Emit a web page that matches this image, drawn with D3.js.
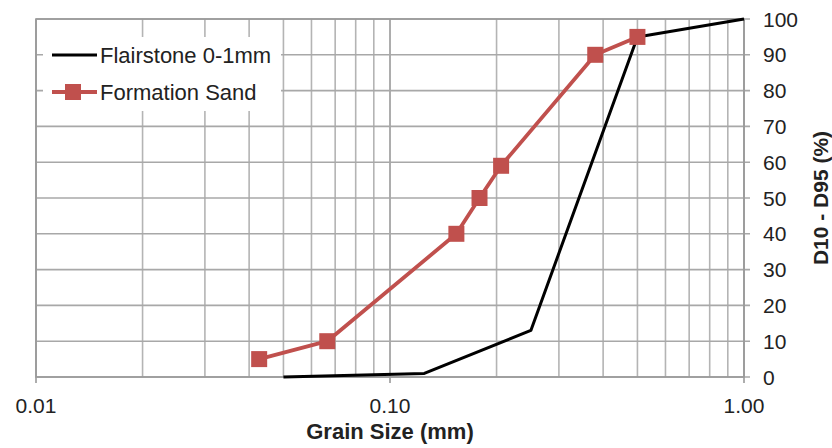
<!DOCTYPE html>
<html><head><meta charset="utf-8">
<script src="https://cdn.jsdelivr.net/npm/d3@7/dist/d3.min.js"></script>
<style>body{margin:0;background:#fff}svg{display:block;font-family:"Liberation Sans",Arial,sans-serif}</style>
</head><body><svg id="c" width="832" height="448"></svg>
<script>
const flairSize = [0.05, 0.125, 0.25, 0.5, 1.0];
const flairPct  = [0, 1, 13, 95, 100];
const sandSize  = [0.0427, 0.0665, 0.154, 0.179, 0.206, 0.38, 0.5];
const sandPct   = [5, 10, 40, 50, 59, 90, 95];
const xTicks = [0.01, 0.1, 1];
const xTickLabels = ["0.01", "0.10", "1.00"];
const yTicks = [0,10,20,30,40,50,60,70,80,90,100];
const seriesNames = ["Flairstone 0-1mm", "Formation Sand"];

const svg = d3.select("#c");
const L = 36, R = 744, T = 19, B = 377;
const x = d3.scaleLog().domain([0.01, 1]).range([L, R]);
const y = d3.scaleLinear().domain([0, 100]).range([B, T]);
const FS = 21;

// minor grid
const minor = [];
[0.01, 0.1].forEach(d => { for (let k = 2; k <= 9; k++) minor.push(d * k); });
const g = svg.append("g");
g.selectAll(".vx").data(minor).enter().append("line")
  .attr("x1", d => x(d)).attr("x2", d => x(d)).attr("y1", T).attr("y2", B)
  .attr("stroke", "#b4b4b4").attr("stroke-width", 1.6);
g.selectAll(".vm").data(xTicks).enter().append("line")
  .attr("x1", d => x(d)).attr("x2", d => x(d)).attr("y1", T).attr("y2", B + 6)
  .attr("stroke", "#999").attr("stroke-width", 1.6);
g.selectAll(".hy").data(yTicks).enter().append("line")
  .attr("x1", L).attr("x2", R + 6).attr("y1", d => y(d)).attr("y2", d => y(d))
  .attr("stroke", "#a8a8a8").attr("stroke-width", 1.6);
// frame
g.append("rect").attr("x", L).attr("y", T).attr("width", R - L).attr("height", B - T)
  .attr("fill", "none").attr("stroke", "#999").attr("stroke-width", 1.6);

// axes labels
svg.append("g").selectAll("text").data(yTicks).enter().append("text")
  .attr("x", 763).attr("y", d => y(d)).attr("dy", "0.36em")
  .attr("font-size", FS).attr("fill", "#222").text(d => d);
svg.append("g").selectAll("text").data(xTicks).enter().append("text")
  .attr("x", d => x(d)).attr("y", 405).attr("dy", "0.36em").attr("text-anchor", "middle")
  .attr("font-size", FS).attr("fill", "#222").text((d, i) => xTickLabels[i]);
svg.append("text").attr("x", 390).attr("y", 431).attr("dy", "0.36em").attr("text-anchor", "middle")
  .attr("font-size", 22).attr("font-weight", "bold").attr("fill", "#222").text("Grain Size (mm)");
svg.append("text").attr("transform", "translate(820,198) rotate(-90)").attr("dy", "0.36em")
  .attr("text-anchor", "middle").attr("font-size", FS).attr("font-weight", "bold").attr("fill", "#222")
  .text("D10 - D95 (%)");

// series
const line = d3.line().x(d => x(d[0])).y(d => y(d[1]));
const flair = flairSize.map((s, i) => [s, flairPct[i]]);
const sand = sandSize.map((s, i) => [s, sandPct[i]]);
svg.append("path").datum(sand).attr("d", line).attr("fill", "none")
  .attr("stroke", "#c0504d").attr("stroke-width", 3.8).attr("stroke-linejoin", "round");
svg.append("path").datum(flair).attr("d", line).attr("fill", "none")
  .attr("stroke", "#000").attr("stroke-width", 3).attr("stroke-linejoin", "round");
svg.selectAll(".sq").data(sand).enter().append("rect")
  .attr("x", d => x(d[0]) - 8).attr("y", d => y(d[1]) - 8).attr("width", 16).attr("height", 16)
  .attr("fill", "#c0504d");

// legend
const lg = svg.append("g");
lg.append("rect").attr("x", 43).attr("y", 37).attr("width", 238).attr("height", 74).attr("fill", "#fff");
lg.append("line").attr("x1", 52).attr("x2", 97).attr("y1", 55).attr("y2", 55)
  .attr("stroke", "#000").attr("stroke-width", 3);
lg.append("text").attr("x", 100).attr("y", 55).attr("dy", "0.36em").attr("font-size", 22)
  .attr("fill", "#222").text(seriesNames[0]);
lg.append("line").attr("x1", 52).attr("x2", 97).attr("y1", 92).attr("y2", 92)
  .attr("stroke", "#c0504d").attr("stroke-width", 3.8);
lg.append("rect").attr("x", 65).attr("y", 84).attr("width", 16).attr("height", 16).attr("fill", "#c0504d");
lg.append("text").attr("x", 100).attr("y", 92).attr("dy", "0.36em").attr("font-size", 22)
  .attr("fill", "#222").text(seriesNames[1]);
</script></body></html>
